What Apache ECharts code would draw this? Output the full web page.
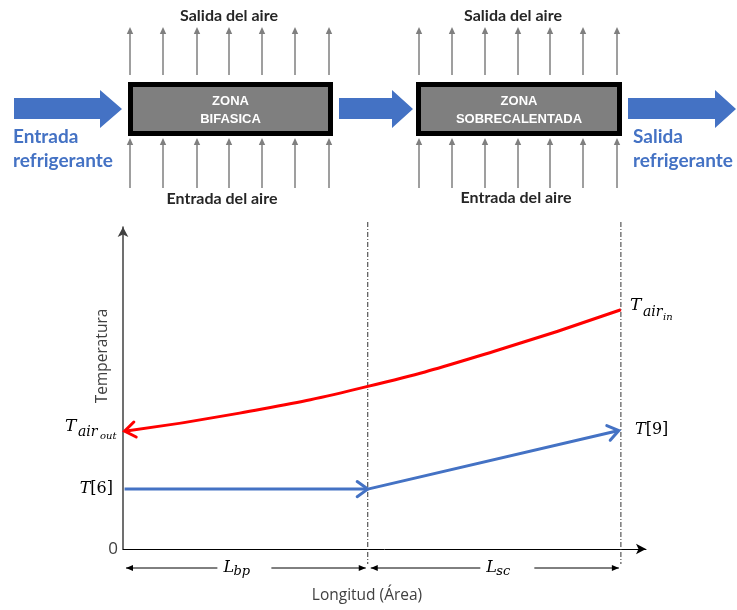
<!DOCTYPE html>
<html><head><meta charset="utf-8">
<script src="https://cdn.jsdelivr.net/npm/echarts@6/dist/echarts.min.js"></script>
<style>html,body{margin:0;padding:0;background:#fff}#c{width:737px;height:610px}</style>
</head><body><div id="c"></div>
<script>
// ---- data (arbitrary units) ----
const redX = [0.03, 2.23, 4.68, 7.10, 9.52];
const redY = [3.66, 4.22, 5.05, 6.14, 7.43];
const blueX = [0.03, 4.68, 9.48];
const blueY = [1.86, 1.86, 3.68];
const zoneBounds = [0, 4.68, 9.52];
const zoneSubs = ['bp', 'sc'];
const yTickLabels = ['0'];
const axisMax = 10;

// ---- styling / layout ----
const MATH = 'DejaVu Serif';
const SANS = 'Lato';
const BLUE = '#4472c4';
const RED = '#ff0000';
const GRAY = '#7f7f7f';
const dimLabelShift = [-9, 5];

const redData = redX.map((x, i) => [x, redY[i]]);
const blueData = blueX.map((x, i) => [x, blueY[i]]);
// arrow heads: tip point, point it comes from, colour
const heads = [
  [redX[0], redY[0], redX[1], redY[1], RED],
  [blueX[1], blueY[1], blueX[0], blueY[0], BLUE],
  [blueX[2], blueY[2], blueX[1], blueY[1], BLUE]
];

const chart = echarts.init(document.getElementById('c'), null, {renderer: 'canvas'});

function chevron(params, api) {
  const tip = api.coord([api.value(0), api.value(1)]);
  const from = api.coord([api.value(2), api.value(3)]);
  const col = heads[params.dataIndex][4];
  const ang = Math.atan2(from[1] - tip[1], from[0] - tip[0]);
  const L = 13, a = 0.62;
  const p1 = [tip[0] + L * Math.cos(ang + a), tip[1] + L * Math.sin(ang + a)];
  const p2 = [tip[0] + L * Math.cos(ang - a), tip[1] + L * Math.sin(ang - a)];
  return {type: 'polyline', shape: {points: [p1, tip, p2]},
    style: {stroke: col, lineWidth: 3, fill: null, lineJoin: 'miter', lineCap: 'round'}};
}

function dashLine(params, api) {
  const p = api.coord([api.value(0), 0]);
  const top = params.coordSys.y - 5;
  return {type: 'line', shape: {x1: p[0], y1: top, x2: p[0], y2: p[1] + 15},
    style: {stroke: '#333', lineWidth: 1, lineDash: [5, 2, 1, 2]}};
}

function tri(x, y, dir) {
  return {type: 'polygon', shape: {points: [[x, y], [x - dir * 7, y - 3], [x - dir * 7, y + 3]]},
    style: {fill: '#000'}};
}

function dimension(params, api) {
  const a = api.coord([api.value(0), 0]);
  const b = api.coord([api.value(1), 0]);
  const y = a[1] + 19;
  const x1 = a[0] + 3, x2 = b[0] - 2;
  const cx = (a[0] + b[0]) / 2 + dimLabelShift[params.dataIndex];
  const g1 = cx - 19, g2 = cx + 35;
  const sub = zoneSubs[params.dataIndex];
  return {type: 'group', children: [
    {type: 'line', shape: {x1: x1, y1: y, x2: g1, y2: y}, style: {stroke: '#000', lineWidth: 1}},
    {type: 'line', shape: {x1: g2, y1: y, x2: x2, y2: y}, style: {stroke: '#000', lineWidth: 1}},
    tri(x1, y, -1), tri(x2, y, 1),
    {type: 'text', style: {text: 'L', x: cx - 13, y: y, font: 'italic 16px "' + MATH + '"', fill: '#000', align: 'left', verticalAlign: 'middle'}},
    {type: 'text', style: {text: sub, x: cx - 3, y: y + 4, font: 'italic 13px "' + MATH + '"', fill: '#000', align: 'left', verticalAlign: 'middle'}}
  ]};
}

// ---- schematic on top (graphic elements) ----
const g = [];
function blockArrow(x0, xh, xt) {
  g.push({type: 'polygon', shape: {points: [[x0, 98], [xh, 98], [xh, 90], [xt, 109], [xh, 128], [xh, 119], [x0, 119]]},
    style: {fill: BLUE}});
}
blockArrow(14, 100, 122);
blockArrow(339, 392, 413);
blockArrow(628, 715, 736);

function box(x, w, l1, l2) {
  g.push({type: 'rect', shape: {x: x + 2.5, y: 84.5, width: w - 5, height: 49},
    style: {fill: GRAY, stroke: '#000', lineWidth: 5}});
  const cx = x + w / 2;
  g.push({type: 'text', style: {text: l1, x: cx, y: 101, font: 'bold 13px "Liberation Sans"', fill: '#fff', align: 'center', verticalAlign: 'middle'}});
  g.push({type: 'text', style: {text: l2, x: cx, y: 119, font: 'bold 13px "Liberation Sans"', fill: '#fff', align: 'center', verticalAlign: 'middle'}});
}
box(128, 205, 'ZONA', 'BIFASICA');
box(416, 206, 'ZONA', 'SOBRECALENTADA');

function airArrow(x, yb, yt) {
  g.push({type: 'line', shape: {x1: x, y1: yb, x2: x, y2: yt + 5}, style: {stroke: GRAY, lineWidth: 1.5}});
  g.push({type: 'polygon', shape: {points: [[x, yt], [x - 3.2, yt + 7], [x + 3.2, yt + 7]]}, style: {fill: GRAY}});
}
[130, 163, 197, 229, 262, 295, 329, 419, 452, 485, 518, 550, 583, 617].forEach(x => {
  airArrow(x, 75, 27);
  airArrow(x, 188, 138);
});

function txt(t, x, y, font, fill, align) {
  g.push({type: 'text', style: {text: t, x: x, y: y, font: font, fill: fill, align: align || 'left', verticalAlign: 'middle'}});
}
const bigBlue = 'bold 19px "' + SANS + '"';
txt('Entrada', 13, 137, bigBlue, BLUE);
txt('refrigerante', 13, 161, bigBlue, BLUE);
txt('Salida', 633, 137, bigBlue, BLUE);
txt('refrigerante', 633, 161, bigBlue, BLUE);
const airF = 'bold 16px "' + SANS + '"';
txt('Salida del aire', 229, 16, airF, '#262626', 'center');
txt('Salida del aire', 513, 16, airF, '#262626', 'center');
txt('Entrada del aire', 222, 199, airF, '#262626', 'center');
txt('Entrada del aire', 516, 198, airF, '#262626', 'center');

// axis titles
g.push({type: 'text', x: 103, y: 356, rotation: Math.PI / 2,
  style: {text: 'Temperatura', font: '15.5px "Open Sans"', fill: '#404040', align: 'center', verticalAlign: 'middle'}});
txt('Longitud (Área)', 367, 596, '15.5px "Open Sans"', '#404040', 'center');

// math labels
const mT = 'italic 17px "' + MATH + '"';
const mS = 'italic 14px "' + MATH + '"';
const mSS = 'italic 10px "' + MATH + '"';
txt('T', 65, 427, mT, '#000');
txt('air', 78, 432, mS, '#000');
txt('out', 100, 436, mSS, '#000');
txt('T', 630, 306, mT, '#000');
txt('air', 643, 312, mS, '#000');
txt('in', 663, 317, mSS, '#000');
g.push({type: 'text', style: {text: '{i|T}{n|[6]}', x: 113, y: 489, align: 'right', verticalAlign: 'middle',
  rich: {i: {font: 'italic 16px "' + MATH + '"', fill: '#000'}, n: {font: '16px "' + MATH + '"', fill: '#000'}}}});
g.push({type: 'text', style: {text: '{i|T}{n|[9]}', x: 635, y: 430, align: 'left', verticalAlign: 'middle',
  rich: {i: {font: 'italic 16px "' + MATH + '"', fill: '#000'}, n: {font: '16px "' + MATH + '"', fill: '#000'}}}});

const option = {
  animation: false,
  backgroundColor: '#fff',
  grid: {left: 123, right: 91, top: 227, bottom: 61, containLabel: false},
  xAxis: {type: 'value', min: 0, max: axisMax, interval: axisMax,
    axisLine: {show: true, onZero: false, symbol: ['none', 'arrow'], symbolSize: [8, 10], lineStyle: {color: '#000', width: 1}},
    axisTick: {show: false}, axisLabel: {show: false}, splitLine: {show: false}},
  yAxis: {type: 'value', min: 0, max: axisMax, interval: axisMax,
    axisLine: {show: true, symbol: ['none', 'arrow'], symbolSize: [8, 10], lineStyle: {color: '#404040', width: 1.5}},
    axisTick: {show: false}, splitLine: {show: false},
    axisLabel: {show: true, margin: 5, fontSize: 17, color: '#404040', fontFamily: 'Open Sans',
      formatter: v => (v === 0 ? yTickLabels[0] : '')}},
  graphic: g,
  series: [
    {type: 'custom', renderItem: dashLine, clip: false, z: 1, data: zoneBounds.slice(1).map(v => [v])},
    {type: 'custom', renderItem: dimension, clip: false, z: 1,
      data: zoneSubs.map((s, i) => [zoneBounds[i], zoneBounds[i + 1]])},
    {type: 'line', data: redData, smooth: 0.5, symbol: 'none', z: 3,
      lineStyle: {color: RED, width: 3}},
    {type: 'line', data: blueData, smooth: false, symbol: 'none', z: 3,
      lineStyle: {color: BLUE, width: 3}},
    {type: 'custom', renderItem: chevron, clip: false, z: 4,
      data: heads.map(h => [h[0], h[1], h[2], h[3]])}
  ]
};
chart.setOption(option);
</script></body></html>
